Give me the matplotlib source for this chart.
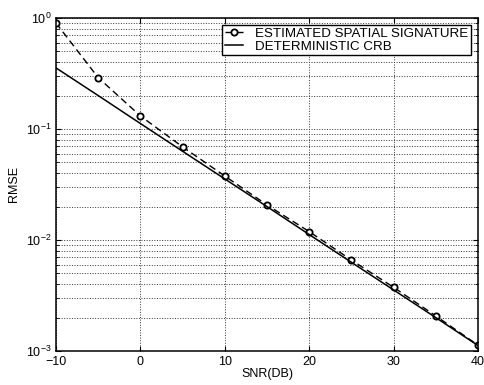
import matplotlib.pyplot as plt
import numpy as np

plt.rcParams['font.family'] = ['Liberation Sans', 'DejaVu Sans']

# SNR en dB
snr = [-10, -5, 0, 5, 10, 15, 20, 25, 30, 35, 40]
# RMSE de la firma espacial estimada
rmse_est = [0.90, 0.29, 0.131, 0.069, 0.0377, 0.0207, 0.0119, 0.0066, 0.00375, 0.00207, 0.00113]
# CRB determinista
rmse_crb = [0.355, 0.20, 0.112, 0.063, 0.0355, 0.020, 0.0112, 0.0063, 0.00355, 0.0020, 0.00112]

fig = plt.figure(figsize=(4.85, 3.85), dpi=100)
ax = fig.add_axes([0.1155, 0.0883, 0.87, 0.865])

ax.semilogy(snr, rmse_est, 'k--o', lw=1.0, ms=4.5, mfc='white', mew=1.3,
            dashes=(5, 3), label="ESTIMATED SPATIAL SIGNATURE")
ax.semilogy(snr, rmse_crb, 'k-', lw=1.1, label="DETERMINISTIC CRB")

ax.set_xlim(-10, 40)
ax.set_ylim(1e-3, 1)
ax.set_xticks([-10, 0, 10, 20, 30, 40])
ax.grid(True, which='major', ls=':', color='#333333', lw=0.7)
ax.grid(True, which='minor', axis='y', ls=':', color='#333333', lw=0.7)
ax.tick_params(which='both', direction='in', top=True, right=True, labelsize=9)
ax.tick_params(axis='x', which='minor', bottom=False, top=False)
for s in ax.spines.values():
    s.set_linewidth(1.1)

ax.set_xlabel("SNR(DB)", fontsize=9, labelpad=0)
ax.set_ylabel("RMSE", fontsize=9, labelpad=4)

leg = ax.legend(loc='upper right', fontsize=9.6, handlelength=1.4, borderaxespad=0.5,
                fancybox=False, edgecolor='k', framealpha=1, borderpad=0.2,
                labelspacing=0.05, handletextpad=0.9)
leg.get_frame().set_linewidth(1.0)

plt.savefig("out.png", dpi=100)
